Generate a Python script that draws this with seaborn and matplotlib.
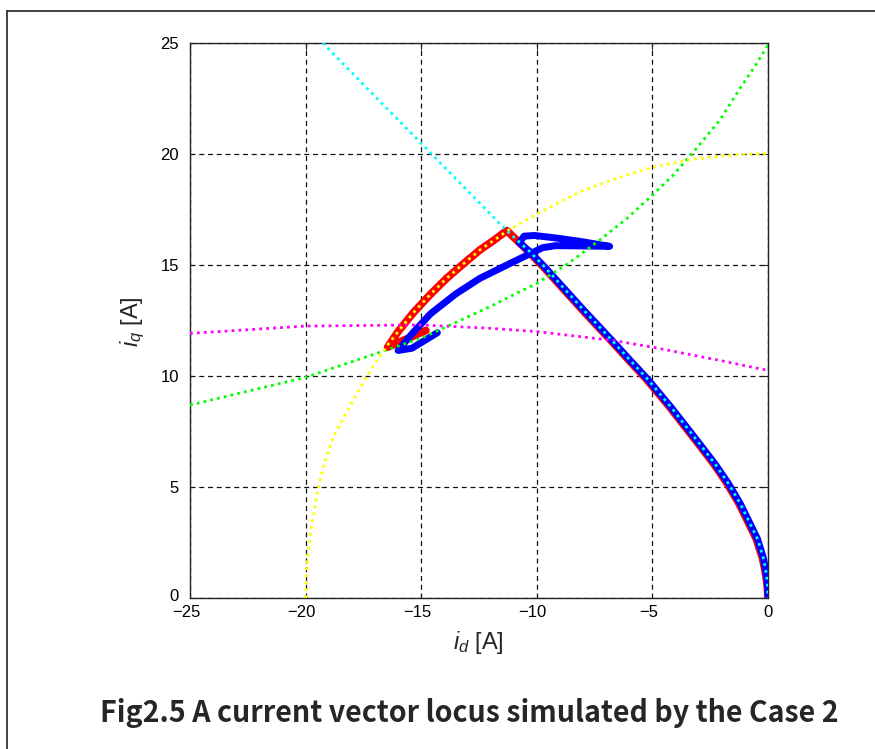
import matplotlib
matplotlib.use("Agg")
import matplotlib.pyplot as plt
import seaborn as sns
import pandas as pd
from matplotlib.lines import Line2D
from matplotlib.transforms import ScaledTranslation

# ---------------- data ----------------
# voltage-limit curve (cyan, dotted)
volt_x = [-19.26, -17.0, -15.0, -13.0, -11.3, -10.3, -9.65, -9.0, -8.0, -6.7, -6.0,
          -5.2, -4.2, -3.6, -3.0, -2.3, -1.72, -1.2, -0.78, -0.45, -0.2, -0.1,
          -0.04, -0.01, 0.0]
volt_y = [25.0, 22.6, 20.48, 18.35, 16.55, 15.6, 14.9, 14.15, 13.0, 11.55, 10.75,
          9.85, 8.6, 7.8, 7.0, 6.05, 5.17, 4.25, 3.36, 2.65, 1.8, 1.25,
          0.8, 0.4, 0.0]

# current-limit curve (yellow, dotted)
curr_x = [-20.0, -19.97, -19.9, -19.75, -19.45, -19.15, -18.8, -18.1, -17.36,
          -16.45, -16.0, -15.34, -14.6, -13.9, -13.2, -12.46, -11.9, -11.3, -10.0,
          -8.13, -6.5, -5.0, -3.24, -1.5, 0.0]
curr_y = [0.0, 1.0, 2.0, 3.2, 5.0, 6.2, 7.27, 8.6, 10.0,
          11.4, 12.0, 12.85, 13.68, 14.4, 15.03, 15.68, 16.08, 16.52, 17.3,
          18.3, 18.92, 19.4, 19.77, 19.96, 20.03]

# green dotted curve
green_x = [-25.0, -20.0, -16.5, -15.0, -12.03, -10.73, -10.0, -8.6, -7.27, -6.1,
           -5.0, -4.1, -3.3, -2.08, -1.21, -0.6, 0.0]
green_y = [8.69, 9.94, 11.17, 11.7, 13.12, 13.8, 14.17, 15.1, 16.13, 17.1,
           18.15, 19.05, 20.0, 21.53, 22.96, 23.9, 24.9]

# magenta dotted curve
mag_x = [-25.0, -20.0, -15.0, -12.03, -10.0, -6.7, -5.0, -2.08, 0.0]
mag_y = [11.92, 12.25, 12.3, 12.15, 12.0, 11.6, 11.3, 10.7, 10.25]

# reference current locus (red)
ref_x = [0.0, -0.02, -0.06, -0.13, -0.24, -0.5, -0.83, -1.25, -1.77, -2.35,
         -3.05, -3.65, -4.25, -5.25, -6.05, -6.75, -8.05, -9.05, -9.7, -10.35,
         -11.3, -11.9, -12.46, -13.2, -13.9, -14.6, -15.34, -16.0, -16.45,
         -15.6, -14.8]
ref_y = [0.0, 0.4, 0.8, 1.25, 1.8, 2.65, 3.36, 4.25, 5.17, 6.05,
         7.0, 7.8, 8.6, 9.85, 10.75, 11.55, 13.0, 14.15, 14.9, 15.6,
         16.55, 16.08, 15.68, 15.03, 14.4, 13.68, 12.85, 12.0, 11.3,
         11.68, 12.05]

# simulated current locus (blue)
sim_x = [0.0, -0.01, -0.04, -0.1, -0.2, -0.45, -0.78, -1.2, -1.72, -2.3,
         -3.0, -3.6, -4.2, -5.2, -6.0, -6.7, -8.0, -9.0, -9.65, -10.3,
         -10.75, -10.55, -10.1, -9.2, -8.1, -6.85, -8.1, -9.2, -9.75,
         -11.0, -12.46, -13.5, -14.6, -15.4, -16.0, -15.4, -14.3]
sim_y = [0.1, 0.4, 0.8, 1.25, 1.8, 2.65, 3.36, 4.25, 5.17, 6.05,
         7.0, 7.8, 8.6, 9.85, 10.75, 11.55, 13.0, 14.15, 14.9, 15.6,
         16.0, 16.3, 16.33, 16.22, 16.06, 15.84, 15.86, 15.87, 15.78,
         15.15, 14.4, 13.7, 12.8, 11.9, 11.15, 11.25, 11.95]

x_ticks = [-25, -20, -15, -10, -5, 0]
y_ticks = [0, 5, 10, 15, 20, 25]

caption = 'Fig2.5 A current vector locus simulated by the Case 2'

# ---------------- styling ----------------
sns.set_theme(style="white")
plt.rcParams['font.family'] = ['Liberation Sans', 'DejaVu Sans']
plt.rcParams['mathtext.fontset'] = 'custom'
plt.rcParams['mathtext.rm'] = 'Liberation Sans'
plt.rcParams['mathtext.it'] = 'Liberation Sans:italic'

W, H = 875, 749
fig = plt.figure(figsize=(W / 100, H / 100), dpi=100)
fig.patch.set_facecolor('white')
ax = fig.add_axes([190 / W, 1 - 598 / H, 578 / W, 555 / H])
ax.set_facecolor('white')

dot = (0, (1, 1.5))
sns.lineplot(x=ref_x, y=ref_y, sort=False, estimator=None, ax=ax,
             color='#ff0000', lw=5.6, zorder=3, solid_capstyle='round',
             solid_joinstyle='round')
sns.lineplot(x=sim_x, y=sim_y, sort=False, estimator=None, ax=ax,
             color='#0000ff', lw=5.0, zorder=4, solid_capstyle='round',
             solid_joinstyle='round')
for xs, ys, c in [(mag_x, mag_y, '#ff00ff'), (green_x, green_y, '#00ff00'),
                  (curr_x, curr_y, '#ffff00'), (volt_x, volt_y, '#00ffff')]:
    sns.lineplot(x=xs, y=ys, sort=False, estimator=None, ax=ax,
                 color=c, lw=2.0, linestyle=dot, zorder=5)

ax.set_xlim(-25, 0)
ax.set_ylim(0, 25)
ax.set_xticks(x_ticks)
ax.set_yticks(y_ticks)
ax.set_xticklabels([f"{v}".replace('-', '\u2212') for v in x_ticks])
ax.set_yticklabels([f"{v}" for v in y_ticks])
ax.set_xlabel('')
ax.set_ylabel('')

ax.grid(True, color='#111111', linestyle=(0, (4, 3)), lw=0.9)
ax.set_axisbelow(True)
for s in ax.spines.values():
    s.set_color('#222222')
    s.set_linewidth(1.0)
ax.tick_params(direction='in', length=5, width=0.8, top=True, right=True,
               colors='#222222', labelcolor='black', labelsize=12)
ax.tick_params(axis='x', pad=5)
ax.tick_params(axis='y', pad=8)

shift = ScaledTranslation(-4 / 100, 0, fig.dpi_scale_trans)
for lbl, v in zip(ax.get_xticklabels(), x_ticks):
    if v < 0:
        lbl.set_transform(lbl.get_transform() + shift)
up = ScaledTranslation(0, 3 / 100, fig.dpi_scale_trans)
for lbl, v in zip(ax.get_yticklabels(), y_ticks):
    if v == 0:
        lbl.set_transform(lbl.get_transform() + up)

fig.text(478 / W, 1 - 643 / H, r'$i_d$ [A]', ha='center', va='center', fontsize=17)
fig.text(133 / W, 1 - 322 / H, r'$i_q$ [A]', ha='center', va='center', fontsize=17,
         rotation=90)

cap = fig.text(469 / W, 1 - 713 / H, caption,
               ha='center', va='center', fontsize=18, fontweight='bold',
               family=['Noto Sans CJK JP', 'DejaVu Sans'])
fig.canvas.draw()
wpx = cap.get_window_extent().width
cap.set_fontsize(18 * 738 / wpx)

fig.add_artist(Line2D([7 / W, 7 / W], [0, 1 - 11 / H], transform=fig.transFigure,
                      color='#222222', lw=1.2))
fig.add_artist(Line2D([7 / W, 1], [1 - 11 / H, 1 - 11 / H], transform=fig.transFigure,
                      color='#222222', lw=1.2))

fig.savefig('out.png', dpi=100, facecolor='white')
